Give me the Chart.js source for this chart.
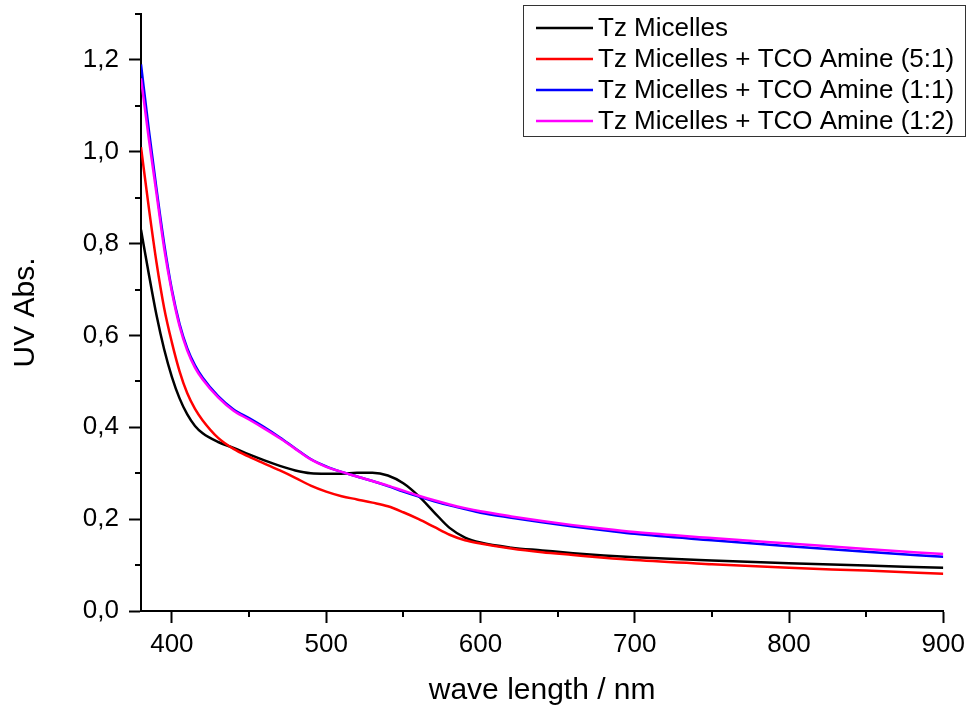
<!DOCTYPE html>
<html>
<head>
<meta charset="utf-8">
<script src="https://cdn.jsdelivr.net/npm/chart.js@4"></script>
<style>
  html, body { margin: 0; padding: 0; background: #fff; }
  #wrap { width: 971px; height: 711px; }
</style>
</head>
<body>
<div id="wrap"><canvas id="uv-chart" width="971" height="711"></canvas></div>
<script>
const wavelengths = [380, 385, 390, 395, 400, 405, 410, 415, 420, 430, 440, 450, 460, 470, 480, 490, 500,
    510, 520, 530, 540, 550, 560, 570, 580, 590, 600, 620, 640, 660, 680, 700, 750, 800, 850, 900];

const tzMicelles = [0.83, 0.735, 0.645, 0.57, 0.51, 0.463, 0.428, 0.403, 0.387, 0.368, 0.355, 0.341, 0.328, 0.316, 0.306, 0.300, 0.299,
    0.299, 0.301, 0.301, 0.295, 0.278, 0.250, 0.215, 0.181, 0.160, 0.149, 0.138, 0.132, 0.126, 0.121, 0.117, 0.110, 0.104, 0.099, 0.094];

const tco51 = [1.01, 0.88, 0.76, 0.66, 0.585, 0.522, 0.474, 0.440, 0.415, 0.377, 0.353, 0.336, 0.321, 0.306, 0.290, 0.273, 0.260,
    0.250, 0.243, 0.236, 0.228, 0.215, 0.200, 0.183, 0.166, 0.154, 0.147, 0.136, 0.128, 0.122, 0.116, 0.111, 0.102, 0.094, 0.088, 0.081];

const tco11 = [1.19, 1.05, 0.92, 0.80, 0.70, 0.625, 0.572, 0.535, 0.508, 0.468, 0.439, 0.420, 0.400, 0.378, 0.354, 0.331, 0.315,
    0.303, 0.293, 0.283, 0.272, 0.260, 0.249, 0.239, 0.230, 0.222, 0.214, 0.203, 0.193, 0.184, 0.176, 0.168, 0.154, 0.141, 0.129, 0.118];

const tco12 = [1.16, 1.03, 0.91, 0.79, 0.695, 0.62, 0.567, 0.530, 0.504, 0.465, 0.436, 0.417, 0.397, 0.376, 0.353, 0.330, 0.314,
    0.303, 0.293, 0.283, 0.273, 0.262, 0.251, 0.241, 0.232, 0.224, 0.217, 0.206, 0.196, 0.187, 0.179, 0.172, 0.159, 0.147, 0.135, 0.124];

const xTicks = [400, 450, 500, 550, 600, 650, 700, 750, 800, 850, 900];
const yTicks = [0, 0.1, 0.2, 0.3, 0.4, 0.5, 0.6, 0.7, 0.8, 0.9, 1.0, 1.1, 1.2, 1.3];

const seriesNames = ['Tz Micelles', 'Tz Micelles + TCO Amine (5:1)', 'Tz Micelles + TCO Amine (1:1)', 'Tz Micelles + TCO Amine (1:2)'];
const seriesColors = ['#000000', '#ff0000', '#0000ff', '#ff00ff'];
const seriesValues = [tzMicelles, tco51, tco11, tco12];

const FONT = "'Liberation Sans', Arial, sans-serif";

function toPoints(values) {
    return wavelengths.map((w, i) => ({ x: w, y: values[i] }));
}

const isMajorX = (v) => v % 100 === 0;
const isMajorY = (v) => Math.round(v * 10) % 2 === 0;

// minor ticks (shorter) drawn on top of the axes
const minorTicks = {
    id: 'minorTicks',
    afterDraw(chart) {
        const ctx = chart.ctx;
        const xs = chart.scales.x;
        const ys = chart.scales.y;
        ctx.save();
        ctx.strokeStyle = '#000';
        ctx.lineWidth = 2;
        ctx.beginPath();
        xTicks.filter(v => !isMajorX(v)).forEach(v => {
            const px = Math.round(xs.getPixelForValue(v));
            ctx.moveTo(px, xs.top);
            ctx.lineTo(px, xs.top + 6);
        });
        yTicks.filter(v => !isMajorY(v)).forEach(v => {
            const py = Math.round(ys.getPixelForValue(v));
            ctx.moveTo(ys.right, py);
            ctx.lineTo(ys.right - 6, py);
        });
        ctx.stroke();
        ctx.restore();
    }
};

// boxed legend like the original plot
const boxLegend = {
    id: 'boxLegend',
    afterDraw(chart) {
        const ctx = chart.ctx;
        const left = 523, top = 5, width = 442, height = 131;
        ctx.save();
        ctx.fillStyle = '#fff';
        ctx.fillRect(left, top, width, height);
        ctx.strokeStyle = '#333';
        ctx.lineWidth = 1;
        ctx.strokeRect(left + 0.5, top + 0.5, width, height);
        ctx.font = '26px ' + FONT;
        ctx.textBaseline = 'middle';
        ctx.fillStyle = '#000';
        seriesNames.forEach((name, i) => {
            const y = 28 + i * 31;
            ctx.strokeStyle = seriesColors[i];
            ctx.lineWidth = 2.5;
            ctx.beginPath();
            ctx.moveTo(536, y);
            ctx.lineTo(593, y);
            ctx.stroke();
            ctx.fillText(name, 598, y + 1);
        });
        ctx.restore();
    }
};

const ctx = document.getElementById('uv-chart').getContext('2d');

new Chart(ctx, {
    type: 'line',
    data: {
        datasets: seriesNames.map((name, i) => ({
            label: name,
            data: toPoints(seriesValues[i]),
            borderColor: seriesColors[i],
            backgroundColor: seriesColors[i],
            borderWidth: 2.5,
            pointRadius: 0,
            fill: false,
            cubicInterpolationMode: 'monotone',
            order: 3 - i
        }))
    },
    options: {
        responsive: false,
        animation: false,
        layout: { padding: { top: 14, right: 25, left: 0, bottom: 0 } },
        plugins: {
            legend: { display: false },
            tooltip: { enabled: false }
        },
        scales: {
            x: {
                type: 'linear',
                min: 380,
                max: 900,
                afterBuildTicks: (scale) => { scale.ticks = xTicks.map(v => ({ value: v })); },
                afterFit: (scale) => { scale.height = 100; scale.paddingLeft = 0; },
                border: { display: true, color: '#000', width: 2 },
                grid: {
                    drawOnChartArea: false,
                    drawTicks: true,
                    tickLength: 12,
                    tickWidth: 2,
                    tickColor: (c) => (c.tick && isMajorX(c.tick.value)) ? '#000' : 'rgba(0,0,0,0)'
                },
                ticks: {
                    autoSkip: false,
                    maxRotation: 0,
                    padding: 6,
                    color: '#000',
                    font: { family: FONT, size: 26 },
                    callback: (v) => isMajorX(v) ? String(v) : ''
                },
                title: {
                    display: true,
                    text: 'wave length / nm',
                    color: '#000',
                    font: { family: FONT, size: 30 },
                    padding: { top: 0, bottom: 2 }
                }
            },
            y: {
                min: 0,
                max: 1.3,
                afterBuildTicks: (scale) => { scale.ticks = yTicks.map(v => ({ value: v })); },
                afterFit: (scale) => { scale.width = 141; scale.paddingTop = 0; scale.paddingBottom = 0; },
                border: { display: true, color: '#000', width: 2 },
                grid: {
                    drawOnChartArea: false,
                    drawTicks: true,
                    tickLength: 12,
                    tickWidth: 2,
                    tickColor: (c) => (c.tick && isMajorY(c.tick.value)) ? '#000' : 'rgba(0,0,0,0)'
                },
                ticks: {
                    autoSkip: false,
                    padding: 10,
                    color: '#000',
                    font: { family: FONT, size: 26 },
                    callback: (v) => (isMajorY(v) && v < 1.25) ? v.toFixed(1).replace('.', ',') : ''
                },
                title: {
                    display: true,
                    text: 'UV Abs.',
                    color: '#000',
                    font: { family: FONT, size: 30 },
                    padding: { top: 8, bottom: 0 }
                }
            }
        }
    },
    plugins: [minorTicks, boxLegend]
});
</script>
</body>
</html>
